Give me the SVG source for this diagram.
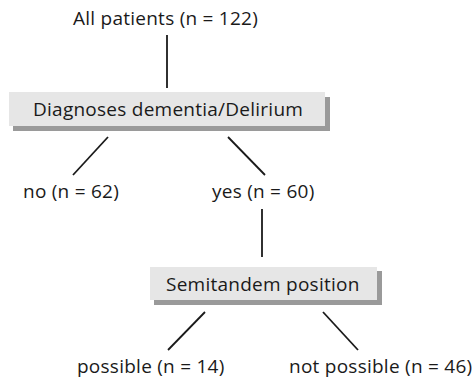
<svg xmlns="http://www.w3.org/2000/svg" width="475" height="378" viewBox="0 0 475 378">
<style>
text{font-family:"Open Sans","Liberation Sans",Arial,sans-serif;font-size:19px;letter-spacing:0.25px;fill:#1a1a1a}
.box{fill:#e6e6e6}
.sh{fill:#9a9a9a}
.ln{stroke:#1a1a1a;stroke-width:1.8;fill:none}
</style>
<rect width="475" height="378" fill="#fff"/>
<g id="connectors">
<line class="ln" x1="167" y1="35" x2="167" y2="88"/>
<line class="ln" x1="108" y1="137" x2="73" y2="175"/>
<line class="ln" x1="228" y1="137" x2="265" y2="175"/>
<line class="ln" x1="262" y1="209" x2="262" y2="257"/>
<line class="ln" x1="205" y1="312" x2="168" y2="350"/>
<line class="ln" x1="323" y1="312" x2="358" y2="350"/>
</g>
<g id="all"><text x="73" y="25">All patients (n = 122)</text></g>
<g id="diag">
<rect class="sh" x="13" y="97" width="317" height="34"/>
<rect class="box" x="9" y="92" width="316" height="34"/>
<text x="33" y="116">Diagnoses dementia/Delirium</text>
</g>
<g id="no"><text x="23" y="198">no (n = 62)</text></g>
<g id="yes"><text x="212" y="198">yes (n = 60)</text></g>
<g id="semi">
<rect class="sh" x="154" y="271" width="228" height="34"/>
<rect class="box" x="150" y="267" width="227" height="33"/>
<text x="166" y="291">Semitandem position</text>
</g>
<g id="possible"><text x="77" y="373">possible (n = 14)</text></g>
<g id="notpossible"><text x="289" y="373">not possible (n = 46)</text></g>
</svg>
